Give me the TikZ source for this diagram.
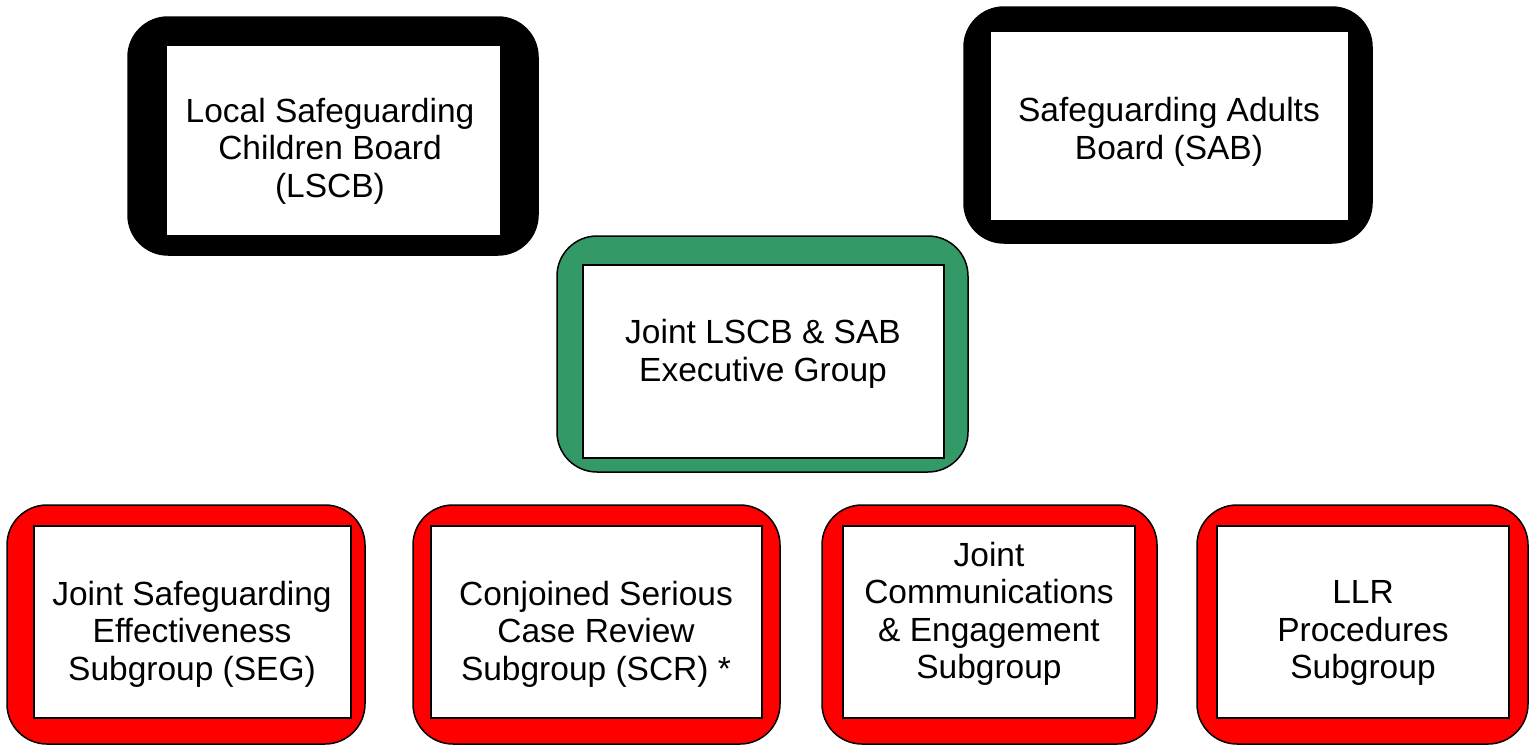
\documentclass[tikz,border=0pt]{standalone}
\usepackage{fontspec}
\setmainfont{Liberation Sans}
\definecolor{execgreen}{RGB}{51,153,102}
\tikzset{
  frame/.style={draw=black, line width=1.5pt, rounded corners=40pt, inner sep=0pt},
  panel/.style={draw=black, line width=2pt, fill=white, inner sep=0pt},
  boxtext/.style={align=center, inner sep=0pt, font=\fontsize{33.5}{37.5}\selectfont}
}
\begin{document}
\begin{tikzpicture}[x=1pt, y=-1pt]
\useasboundingbox (0,0) rectangle (1529,745);

%% LSCB
\node[frame, fill=black, minimum width=410pt, minimum height=238pt] (lscb) at (333, 136) {};
\node[panel, minimum width=335pt, minimum height=191pt] (lscbin) at (333.5, 140.5) {};
\node[boxtext] (lscbtxt) at (330, 151) {Local Safeguarding\\Children Board\\(LSCB)};

%% SAB
\node[frame, fill=black, minimum width=408pt, minimum height=236pt] (sab) at (1168, 125) {};
\node[panel, minimum width=359pt, minimum height=190pt] (sabin) at (1169.5, 126) {};
\node[boxtext] (sabtxt) at (1169, 132) {Safeguarding Adults\\Board (SAB)};

%% Executive group
\node[frame, fill=execgreen, minimum width=411pt, minimum height=236pt] (exec) at (762.5, 354) {};
\node[panel, minimum width=361pt, minimum height=193pt] (execin) at (763.5, 361.5) {};
\node[boxtext] (exectxt) at (763, 354) {Joint LSCB \& SAB\\Executive Group};

%% Subgroups
\node[frame, fill=red, minimum width=358pt, minimum height=239pt] (seg) at (186, 624.5) {};
\node[panel, minimum width=317pt, minimum height=192pt] (segin) at (192.5, 622) {};
\node[boxtext] (segtxt) at (192, 634) {Joint Safeguarding\\Effectiveness\\Subgroup (SEG)};

\node[frame, fill=red, minimum width=367pt, minimum height=239pt] (scr) at (596.5, 624.5) {};
\node[panel, minimum width=331pt, minimum height=192pt] (scrin) at (596.5, 622) {};
\node[boxtext] (scrtxt) at (596, 634) {Conjoined Serious\\Case Review\\Subgroup (SCR) *};

\node[frame, fill=red, minimum width=335pt, minimum height=239pt] (comms) at (989.5, 624.5) {};
\node[panel, minimum width=292pt, minimum height=192pt] (commsin) at (989, 622) {};
\node[boxtext] (commstxt) at (989, 614) {Joint\\Communications\\\& Engagement\\Subgroup};

\node[frame, fill=red, minimum width=331pt, minimum height=239pt] (llr) at (1362.5, 624.5) {};
\node[panel, minimum width=292pt, minimum height=192pt] (llrin) at (1363, 622) {};
\node[boxtext] (llrtxt) at (1363, 633) {LLR\\Procedures\\Subgroup};
\end{tikzpicture}
\end{document}
